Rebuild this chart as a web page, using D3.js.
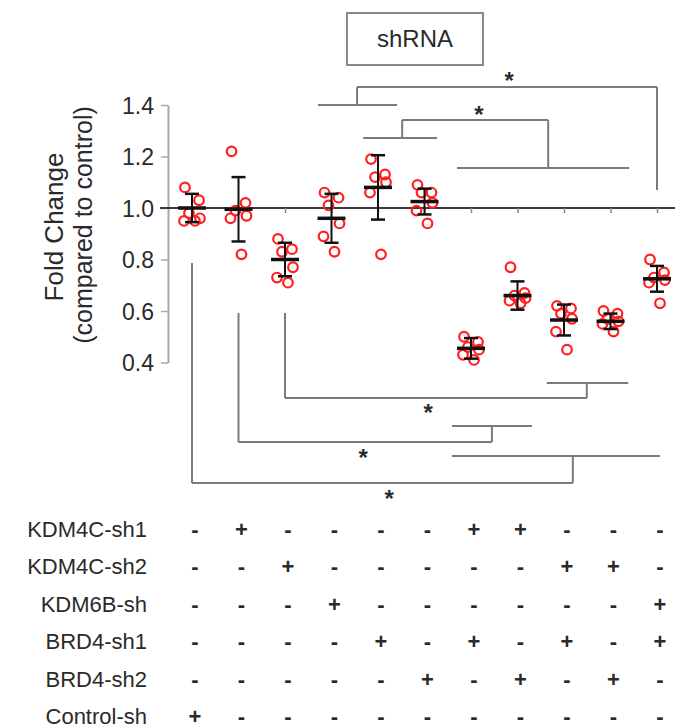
<!DOCTYPE html>
<html>
<head>
<meta charset="utf-8">
<script src="https://cdn.jsdelivr.net/npm/d3@7/dist/d3.min.js"></script>
<style>
  body { margin: 0; background: #fff; }
  text { font-family: "Liberation Sans", Arial, Helvetica, sans-serif; fill: #2a2a2a; }
</style>
<title>shRNA fold change</title>
</head>
<body>
<script>
// groups (one per column of the shRNA table)
var groups = ["G1", "G2", "G3", "G4", "G5", "G6", "G7", "G8", "G9", "G10", "G11"];

// replicate values
var points = [
  [1.08, 1.03, 0.98, 0.96, 0.95, 0.95],
  [1.22, 1.02, 0.99, 0.97, 0.96, 0.82],
  [0.88, 0.84, 0.83, 0.77, 0.73, 0.71],
  [1.06, 1.04, 1.01, 0.94, 0.89, 0.83],
  [1.19, 1.13, 1.12, 1.10, 1.06, 0.82],
  [1.09, 1.06, 1.06, 1.02, 0.99, 0.94],
  [0.50, 0.48, 0.46, 0.45, 0.43, 0.41],
  [0.77, 0.67, 0.66, 0.65, 0.64, 0.63],
  [0.62, 0.61, 0.59, 0.57, 0.52, 0.45],
  [0.60, 0.59, 0.57, 0.56, 0.55, 0.52],
  [0.80, 0.75, 0.73, 0.72, 0.71, 0.63]
];
var means = [1.00, 0.995, 0.80, 0.96, 1.08, 1.025, 0.455, 0.66, 0.565, 0.56, 0.725];
var errs  = [0.055, 0.125, 0.065, 0.095, 0.125, 0.05, 0.04, 0.055, 0.06, 0.03, 0.05];

var yTicks = [0.4, 0.6, 0.8, 1.0, 1.2, 1.4];

// table rows
var rowLabels = ["KDM4C-sh1", "KDM4C-sh2", "KDM6B-sh", "BRD4-sh1", "BRD4-sh2", "Control-sh"];
var rowSigns = [
  "-+----++---",
  "--+-----++-",
  "---+------+",
  "----+-+-+-+",
  "-----+-+-+-",
  "+----------"
];

// significance brackets: x in group index, y in fold change units
var brackets = [
  {bar: 1.47, legs: [{x: 3.55, to: 1.40, sub: [2.71, 4.41]}, {x: 10, to: 1.07, sub: null}], star: [6.82, 1.513]},
  {bar: 1.342, legs: [{x: 4.52, to: 1.272, sub: [3.68, 5.27]}, {x: 7.66, to: 1.155, sub: [5.70, 9.40]}], star: [6.17, 1.381]},
  {bar: 0.262, legs: [{x: 2, to: 0.592, sub: null}, {x: 8.49, to: 0.32, sub: [7.63, 9.38]}], star: [5.08, 0.223]},
  {bar: 0.091, legs: [{x: 1, to: 0.592, sub: null}, {x: 6.45, to: 0.153, sub: [5.59, 7.31]}], star: [3.68, 0.049]},
  {bar: -0.068, legs: [{x: 0, to: 0.786, sub: null}, {x: 8.19, to: 0.037, sub: [5.59, 10.06]}], star: [4.24, -0.111]}
];

var jitter = [-7, 7, -3, 8, -8, 3];

var W = 675, H = 728;
var svg = d3.select("body").append("svg").attr("width", W).attr("height", H);

var x = d3.scalePoint().domain(groups).range([192, 657]);
var xi = d3.scaleLinear().domain([0, groups.length - 1]).range([x(groups[0]), x(groups[groups.length - 1])]);
var y = d3.scaleLinear().domain([0.4, 1.4]).range([362.5, 105]);

var grey = "#7a7a7a";

// y axis
var yAxis = svg.append("g")
  .attr("transform", "translate(168,0)")
  .call(d3.axisLeft(y).tickValues(yTicks).tickFormat(d3.format(".1f")).tickSize(7).tickSizeOuter(0));
yAxis.select(".domain").attr("stroke", "#a8a8a8").attr("stroke-width", 2);
yAxis.selectAll(".tick line").attr("stroke", "#a8a8a8").attr("stroke-width", 1.5);
yAxis.selectAll(".tick text").attr("x", -14).attr("dy", "0.36em")
  .style("font-size", "23px").style("font-family", "Liberation Sans, Arial, sans-serif").attr("fill", "#333");

// baseline at 1.0 with small ticks under each group
var xAxis = svg.append("g")
  .attr("transform", "translate(0," + y(1.0) + ")")
  .call(d3.axisBottom(x).tickSize(5).tickSizeOuter(0).tickFormat(""));
xAxis.select(".domain").attr("d", "M160,0H675").attr("stroke", "#3a3a3a").attr("stroke-width", 2);
xAxis.selectAll(".tick line").attr("stroke", "#888").attr("stroke-width", 1.5);

// axis title
svg.append("text")
  .attr("transform", "translate(63," + 227 + ") rotate(-90)")
  .attr("text-anchor", "middle")
  .style("font-size", "26px")
  .text("Fold Change");
svg.append("text")
  .attr("transform", "translate(92," + 225 + ") rotate(-90)")
  .attr("text-anchor", "middle")
  .style("font-size", "25px")
  .text("(compared to control)");

// shRNA box
svg.append("rect").attr("x", 347).attr("y", 13).attr("width", 136).attr("height", 52)
  .attr("fill", "none").attr("stroke", "#8a8a8a").attr("stroke-width", 2);
svg.append("text").attr("x", 415).attr("y", 47).attr("text-anchor", "middle")
  .style("font-size", "24px").text("shRNA");

// brackets
var bg = svg.append("g").attr("fill", "none").attr("stroke", grey).attr("stroke-width", 2);
brackets.forEach(function(b) {
  bg.append("line").attr("x1", xi(b.legs[0].x)).attr("x2", xi(b.legs[1].x))
    .attr("y1", y(b.bar)).attr("y2", y(b.bar));
  b.legs.forEach(function(l) {
    bg.append("line").attr("x1", xi(l.x)).attr("x2", xi(l.x))
      .attr("y1", y(b.bar)).attr("y2", y(l.to));
    if (l.sub) {
      bg.append("line").attr("x1", xi(l.sub[0])).attr("x2", xi(l.sub[1]))
        .attr("y1", y(l.to)).attr("y2", y(l.to));
    }
  });
  svg.append("text").attr("x", xi(b.star[0])).attr("y", y(b.star[1]) + 13)
    .attr("text-anchor", "middle").style("font-size", "24px").style("font-weight", "bold")
    .text("*");
});

// points
var pg = svg.append("g");
groups.forEach(function(g, i) {
  pg.selectAll(null).data(points[i]).join("circle")
    .attr("cx", function(d, j) { return x(g) + jitter[j % jitter.length]; })
    .attr("cy", function(d) { return y(d); })
    .attr("r", 4.8)
    .attr("fill", "none")
    .attr("stroke", "#ff1f1f")
    .attr("stroke-width", 2.2);
});

// mean and error bars
var eg = svg.append("g").attr("stroke", "#111");
groups.forEach(function(g, i) {
  var cx = x(g);
  eg.append("line").attr("x1", cx).attr("x2", cx)
    .attr("y1", y(means[i] + errs[i])).attr("y2", y(means[i] - errs[i])).attr("stroke-width", 2);
  [means[i] + errs[i], means[i] - errs[i]].forEach(function(v) {
    eg.append("line").attr("x1", cx - 7).attr("x2", cx + 7)
      .attr("y1", y(v)).attr("y2", y(v)).attr("stroke-width", 2.5);
  });
  eg.append("line").attr("x1", cx - 14).attr("x2", cx + 14)
    .attr("y1", y(means[i])).attr("y2", y(means[i])).attr("stroke-width", 3.5);
});

// shRNA table
var rowY = d3.scalePoint().domain(rowLabels).range([529, 716]);
var tg = svg.append("g");
rowLabels.forEach(function(r, ri) {
  tg.append("text").attr("x", 147).attr("y", rowY(r)).attr("dy", "0.36em")
    .attr("text-anchor", "end").style("font-size", "22px").text(r);
  rowSigns[ri].split("").forEach(function(s, ci) {
    tg.append("text").attr("x", x(groups[ci]) + 3).attr("y", rowY(r)).attr("dy", "0.36em")
      .attr("text-anchor", "middle").style("font-size", "22px").style("font-weight", "bold")
      .attr("fill", "#333")
      .text(s);
  });
});
</script>
</body>
</html>
